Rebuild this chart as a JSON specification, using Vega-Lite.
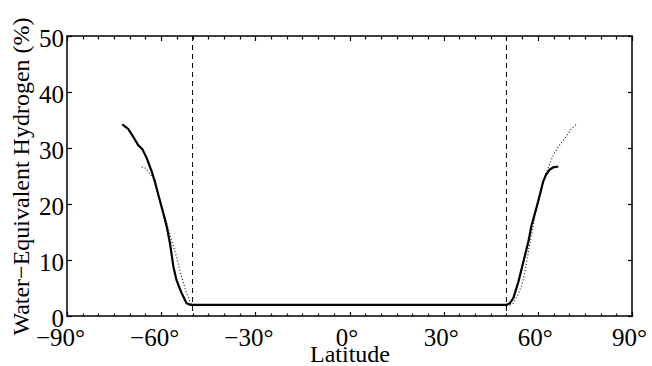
{
  "$schema": "https://vega.github.io/schema/vega-lite/v6.json",
  "width": 565,
  "height": 280,
  "autosize": "none",
  "padding": {"left": 67, "top": 36, "right": 20, "bottom": 50},
  "background": "white",
  "config": {
    "view": {"stroke": "#000", "strokeWidth": 1.5},
    "font": "Liberation Serif, Times New Roman, serif",
    "axis": {
      "domain": false,
      "grid": false,
      "tickColor": "#000",
      "tickWidth": 1.2,
      "labelColor": "#000",
      "titleColor": "#000",
      "labelFont": "Liberation Serif, Times New Roman, serif",
      "titleFont": "Liberation Serif, Times New Roman, serif",
      "labelFontSize": 25,
      "titleFontSize": 24,
      "titleFontWeight": "normal",
      "labelFlush": false,
      "labelOverlap": false
    }
  },
  "datasets": {
    "solid": [
      {"lat": -72.4, "v": 34.2},
      {"lat": -70.5, "v": 33.4},
      {"lat": -68.9, "v": 32.0},
      {"lat": -67.3, "v": 30.5},
      {"lat": -66.0, "v": 29.8},
      {"lat": -64.6, "v": 28.2},
      {"lat": -63.0, "v": 25.8},
      {"lat": -62.0, "v": 24.0},
      {"lat": -60.9, "v": 21.6},
      {"lat": -59.3, "v": 18.3},
      {"lat": -58.2, "v": 15.9},
      {"lat": -57.2, "v": 13.0},
      {"lat": -56.1, "v": 8.8},
      {"lat": -55.1, "v": 6.4},
      {"lat": -53.5, "v": 4.1},
      {"lat": -51.9, "v": 2.3},
      {"lat": -50.8, "v": 2.0},
      {"lat": 50.1, "v": 2.0},
      {"lat": 51.1, "v": 2.3},
      {"lat": 52.2, "v": 3.2},
      {"lat": 53.8, "v": 6.1},
      {"lat": 55.4, "v": 9.7},
      {"lat": 57.0, "v": 13.3},
      {"lat": 58.0, "v": 16.2},
      {"lat": 59.6, "v": 19.4},
      {"lat": 60.9, "v": 22.2},
      {"lat": 61.7, "v": 24.0},
      {"lat": 62.6, "v": 25.2},
      {"lat": 63.7, "v": 26.1},
      {"lat": 64.9, "v": 26.55},
      {"lat": 66.5, "v": 26.7}
    ],
    "dotted": [
      {"lat": -66.2, "v": 26.6},
      {"lat": -65.0, "v": 26.4},
      {"lat": -62.5, "v": 24.6},
      {"lat": -60.5, "v": 21.0},
      {"lat": -58.6, "v": 17.2},
      {"lat": -58.2, "v": 16.6},
      {"lat": -56.6, "v": 13.3},
      {"lat": -55.1, "v": 10.6},
      {"lat": -53.5, "v": 7.0},
      {"lat": -51.9, "v": 4.05},
      {"lat": -50.8, "v": 2.55},
      {"lat": -50.3, "v": 2.0},
      {"lat": 51.3, "v": 2.0},
      {"lat": 52.2, "v": 2.3},
      {"lat": 53.6, "v": 3.75},
      {"lat": 54.9, "v": 5.5},
      {"lat": 55.9, "v": 7.9},
      {"lat": 57.0, "v": 11.5},
      {"lat": 58.0, "v": 14.5},
      {"lat": 59.1, "v": 18.0},
      {"lat": 60.5, "v": 21.6},
      {"lat": 62.0, "v": 24.6},
      {"lat": 63.9, "v": 27.3},
      {"lat": 64.9, "v": 28.75},
      {"lat": 66.5, "v": 30.2},
      {"lat": 68.6, "v": 31.7},
      {"lat": 70.8, "v": 33.5},
      {"lat": 72.6, "v": 34.4}
    ],
    "bounds": [
      {"lat": -50},
      {"lat": 50}
    ]
  },
  "layer": [
    {
      "data": {"name": "dotted"},
      "mark": {"type": "line", "color": "#222", "strokeWidth": 1.2, "strokeDash": [1, 2.2]},
      "encoding": {
        "x": {
          "field": "lat", "type": "quantitative",
          "scale": {"domain": [-90, 90], "nice": false, "zero": false},
          "axis": {
            "orient": "top", "title": null, "labels": false,
            "values": [-90,-85,-80,-75,-70,-65,-60,-55,-50,-45,-40,-35,-30,-25,-20,-15,-10,-5,0,5,10,15,20,25,30,35,40,45,50,55,60,65,70,75,80,85,90],
            "tickSize": {"condition": {"test": "datum.value % 30 === 0", "value": -4.5}, "value": -3}
          }
        },
        "y": {
          "field": "v", "type": "quantitative",
          "scale": {"domain": [0, 50], "nice": false},
          "axis": {
            "orient": "right", "title": null, "labels": false,
            "values": [0, 10, 20, 30, 40, 50], "tickSize": -4.5
          }
        }
      }
    },
    {
      "data": {"name": "solid"},
      "mark": {"type": "line", "color": "#000", "strokeWidth": 2.2},
      "encoding": {
        "x": {
          "field": "lat", "type": "quantitative",
          "axis": {
            "orient": "bottom", "title": "Latitude",
            "values": [-90,-85,-80,-75,-70,-65,-60,-55,-50,-45,-40,-35,-30,-25,-20,-15,-10,-5,0,5,10,15,20,25,30,35,40,45,50,55,60,65,70,75,80,85,90],
            "tickSize": {"condition": {"test": "datum.value % 30 === 0", "value": -4.5}, "value": -3},
            "labelExpr": "datum.value % 30 === 0 ? (datum.value < 0 ? '−' + abs(datum.value) : '' + datum.value) + '°' : ''",
            "labelOffset": {"condition": {"test": "datum.value < 0", "value": -7}, "value": -3},
            "labelPadding": 14,
            "titlePadding": -10
          }
        },
        "y": {
          "field": "v", "type": "quantitative",
          "axis": {
            "orient": "left", "title": "Water−Equivalent Hydrogen (%)",
            "values": [0, 10, 20, 30, 40, 50], "tickSize": -4.5,
            "labelPadding": 8,
            "labelOffset": 2.5,
            "titlePadding": 5
          }
        }
      }
    },
    {
      "data": {"name": "bounds"},
      "mark": {"type": "rule", "color": "#000", "strokeWidth": 1, "strokeDash": [5, 4]},
      "encoding": {
        "x": {"field": "lat", "type": "quantitative", "axis": null}
      }
    }
  ],
  "resolve": {"axis": {"x": "independent", "y": "independent"}}
}
